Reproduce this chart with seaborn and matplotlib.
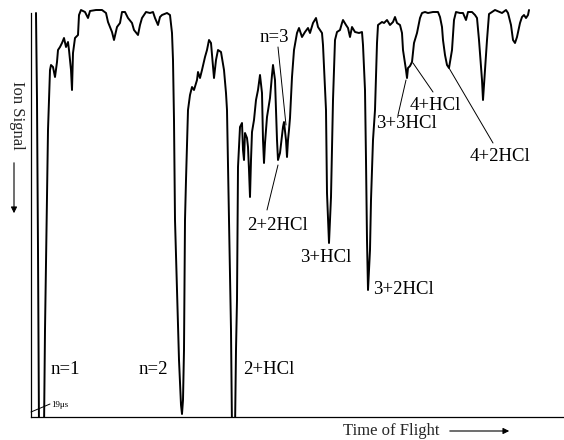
import matplotlib
matplotlib.use("Agg")
from matplotlib import pyplot as plt
import seaborn as sns

# time-of-flight trace (arb. units), ion signal grows downward
tof = [36, 37, 38, 39, 44, 45, 47, 48, 49, 50, 51, 53, 55, 57, 58, 60, 62, 64, 66, 68,
       69, 71, 72, 73, 75, 78, 79, 81, 85, 88, 90, 96, 102, 106, 108, 110, 112, 114, 117, 120,
       122, 125, 128, 132, 134, 138, 140, 142, 146, 150, 153, 155, 158, 160, 162, 167, 170, 172, 173, 174,
       175, 177, 179, 181, 182, 183, 184, 185, 186, 188, 190, 192, 194, 197, 198, 200, 202, 205, 207, 209,
       211, 213, 214, 216, 218, 221, 222, 224, 226, 227, 228, 229, 231, 232, 235, 236, 237, 238, 240, 242,
       243, 244, 245, 247, 248, 249, 250, 251, 252, 254, 256, 258, 260, 262, 263, 264, 265, 267, 270, 272,
       273, 275, 277, 278, 280, 283, 284, 286, 287, 288, 289, 290, 292, 294, 297, 299, 302, 305, 308, 310,
       313, 316, 318, 322, 323, 324, 326, 327, 329, 331, 332, 333, 335, 337, 340, 342, 343, 346, 348, 350,
       352, 355, 359, 362, 363, 365, 366, 367, 368, 370, 371, 373, 375, 377, 378, 382, 384, 387, 390, 393,
       395, 397, 400, 402, 403, 406, 407, 408, 410, 412, 414, 417, 420, 422, 425, 428, 433, 438, 440, 442,
       443, 445, 447, 449, 452, 454, 456, 460, 463, 466, 468, 472, 475, 477, 479, 482, 483, 485, 487, 489,
       492, 495, 502, 506, 508, 511, 513, 515, 517, 520, 522, 524, 526, 528, 529]
signal = [13, 100, 250, 430, 430, 330, 200, 130, 100, 70, 65, 67, 77, 62, 50, 47, 43, 38, 47, 42,
          50, 70, 90, 53, 38, 35, 15, 10, 12, 18, 11, 10, 10, 13, 22, 27, 32, 40, 27, 23,
          12, 12, 18, 23, 30, 35, 25, 18, 12, 13, 12, 18, 25, 17, 15, 13, 15, 33, 60, 120,
          220, 290, 360, 405, 414, 400, 350, 220, 180, 110, 95, 87, 90, 80, 72, 78, 70, 57, 50, 40,
          43, 67, 78, 60, 50, 52, 58, 70, 93, 110, 167, 220, 330, 430, 430, 350, 300, 167, 127, 123,
          150, 160, 133, 138, 147, 170, 197, 160, 132, 120, 100, 90, 75, 93, 140, 163, 143, 117, 98, 75,
          65, 80, 140, 160, 153, 127, 122, 140, 157, 140, 130, 118, 77, 50, 33, 28, 37, 32, 28, 33,
          23, 18, 27, 33, 45, 67, 110, 193, 243, 197, 150, 100, 40, 32, 30, 23, 20, 25, 28, 37,
          27, 32, 33, 32, 45, 90, 160, 240, 290, 250, 200, 140, 110, 43, 25, 22, 23, 20, 25, 22,
          17, 23, 25, 33, 50, 70, 78, 68, 66, 62, 43, 33, 18, 13, 12, 13, 12, 12, 17, 27,
          40, 55, 65, 68, 50, 20, 12, 13, 13, 20, 12, 12, 15, 18, 40, 80, 100, 70, 40, 14,
          12, 10, 13, 10, 13, 25, 40, 43, 37, 23, 17, 15, 18, 15, 10]

# peak labels: text, position, alignment
peak_labels = ["n=1", "n=2", "2+HCl", "n=3", "2+2HCl", "3+HCl", "3+2HCl", "3+3HCl", "4+HCl", "4+2HCl"]
label_x = [65, 153, 269, 274, 277, 326, 373, 406, 435, 500]
label_y = [369, 369, 369, 38, 225, 258, 290, 124, 106, 157]
label_ha = ["center", "center", "center", "center", "center", "center", "left", "center", "center", "center"]

# leader lines from peak to label
leaders = [((278, 47), (286, 125)), ((278, 165), (267, 210)), ((406, 80), (398, 115)),
           ((413, 63), (433, 92)), ((449, 68), (493, 143)), ((31, 412), (50, 404))]

sns.set_theme(style="white")
plt.rcParams["font.family"] = ["Liberation Serif", "DejaVu Serif"]

fig = plt.figure(figsize=(5.64, 4.40), dpi=100)
ax = fig.add_axes([31 / 564, 23 / 440, 533 / 564, 409 / 440])

sns.lineplot(x=tof, y=signal, sort=False, estimator=None, color="black", lw=1.4, ax=ax)
ax.set_xlim(31, 564)
ax.set_ylim(417, 8)
ax.set_xticks([])
ax.set_yticks([])
ax.set_xlabel("")
ax.set_ylabel("")
for s in ["top", "right"]:
    ax.spines[s].set_visible(False)
for s in ["left", "bottom"]:
    ax.spines[s].set_color("black")
    ax.spines[s].set_linewidth(0.9)
ax.spines["left"].set_bounds(417, 13)

for t, x, y, ha in zip(peak_labels, label_x, label_y, label_ha):
    ax.text(x, y, t, ha=ha, va="center", fontsize=13.5, color="black")

for a, b in leaders:
    ax.plot([a[0], b[0]], [a[1], b[1]], color="black", lw=0.7, clip_on=False)
ax.text(51, 405, "19μs", fontsize=6.5, va="center", ha="left", color="black")

# axis captions with arrows
ax.text(17, 115, "Ion Signal", rotation=270, ha="center", va="center", fontsize=12, clip_on=False)
ax.annotate("", xy=(14, 216), xytext=(14, 160), annotation_clip=False,
            arrowprops=dict(arrowstyle="-|>", color="black", lw=0.8, mutation_scale=9))
ax.text(391, 431, "Time of Flight", ha="center", va="center", fontsize=12, clip_on=False)
ax.annotate("", xy=(512, 431), xytext=(447, 431), annotation_clip=False,
            arrowprops=dict(arrowstyle="-|>", color="black", lw=0.8, mutation_scale=9))

fig.savefig("out.png", dpi=100)
